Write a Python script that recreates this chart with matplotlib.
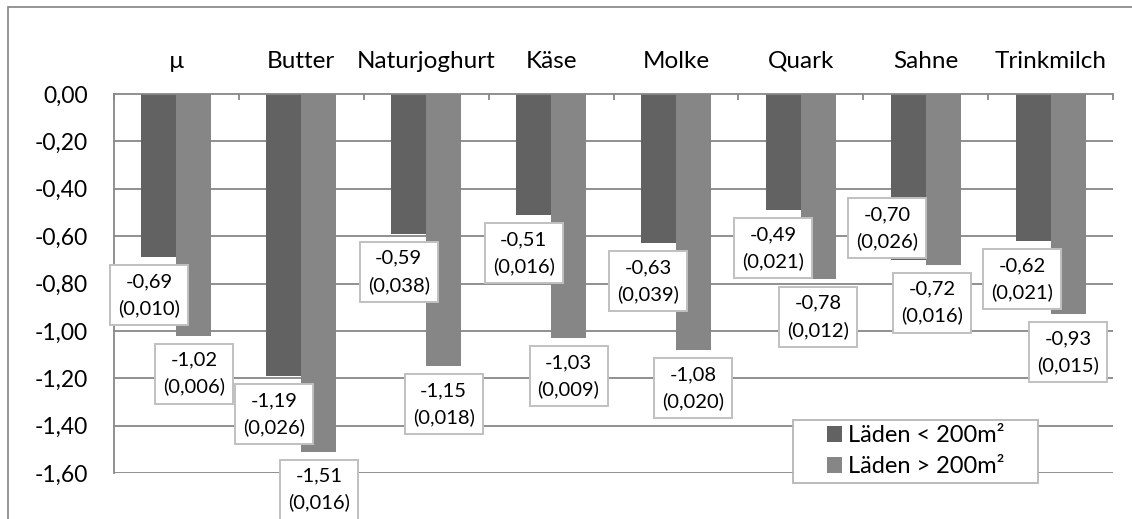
import matplotlib.pyplot as plt
import numpy as np
from matplotlib.patches import Rectangle

plt.rcParams['font.family'] = ['Lato', 'DejaVu Sans']

categories = ["µ", "Butter", "Naturjoghurt", "Käse", "Molke", "Quark", "Sahne", "Trinkmilch"]
small_vals = [-0.69, -1.19, -0.59, -0.51, -0.63, -0.49, -0.70, -0.62]
small_se = [0.010, 0.026, 0.038, 0.016, 0.039, 0.021, 0.026, 0.021]
large_vals = [-1.02, -1.51, -1.15, -1.03, -1.08, -0.78, -0.72, -0.93]
large_se = [0.006, 0.016, 0.018, 0.009, 0.020, 0.012, 0.016, 0.015]
series_names = ["Läden < 200m²", "Läden > 200m²"]
yticks = [0, -0.2, -0.4, -0.6, -0.8, -1.0, -1.2, -1.4, -1.6]

# label box offsets from the bar end, in pixels (dx, dy down)
small_off = [(-10, 38)] * 6 + [(-21, -32), (-11, 38)]
large_off = [(0, 38)] * 6 + [(-11, 38), (0, 38)]

DARK = "#626262"
LIGHT = "#868686"
GRID = "#878787"

def fmt(v, d):
    return f"{v:.{d}f}".replace(".", ",")

fig = plt.figure(figsize=(11.32, 5.19), dpi=100)
W, H = 1132, 519
ax = fig.add_axes([114 / W, 1 - 473 / H, 999 / W, 379 / H])

# outer chart frame
fig.add_artist(Rectangle((8 / W, -0.2), 1.2, 1.2 - 7 / H, transform=fig.transFigure,
                         fill=False, edgecolor="#8c8c8c", linewidth=1.3))

x = np.arange(len(categories))
w = 0.28
ax.bar(x - w / 2, small_vals, w, color=DARK, label=series_names[0], zorder=2)
ax.bar(x + w / 2, large_vals, w, color=LIGHT, label=series_names[1], zorder=2)

ax.set_xlim(-0.5, len(categories) - 0.5)
ax.set_ylim(-1.6, 0)
ax.set_yticks(yticks)
ax.set_yticklabels([fmt(t, 2) for t in yticks], fontsize=16.5)
ax.tick_params(axis='y', length=0, pad=19)
for t in yticks[1:]:
    ax.axhline(t, color=GRID, linewidth=1.3, zorder=1)

ax.xaxis.tick_top()
ax.set_xticks(x)
ax.set_xticklabels(categories, fontsize=17.5)
ax.set_xticks(np.arange(len(categories) + 1) - 0.5, minor=True)
ax.tick_params(axis='x', which='major', length=0, pad=16)
ax.tick_params(axis='x', which='minor', direction='in', length=4.5, width=1.3, color=GRID)

for s in ['right', 'bottom']:
    ax.spines[s].set_visible(False)
for s in ['left', 'top']:
    ax.spines[s].set_color(GRID)
    ax.spines[s].set_linewidth(1.3)

box = dict(boxstyle="square,pad=0.4", facecolor="white", edgecolor="#c0c0c0", linewidth=1.4)
for i in range(len(categories)):
    for xc, v, se, off in [(x[i] - w / 2, small_vals[i], small_se[i], small_off[i]),
                           (x[i] + w / 2, large_vals[i], large_se[i], large_off[i])]:
        ax.annotate(f"{fmt(v, 2)}\n({fmt(se, 3)})", xy=(xc, v),
                    xytext=(off[0] * 0.72, -off[1] * 0.72), textcoords='offset points',
                    ha='center', va='center', fontsize=14.5, linespacing=1.6,
                    bbox=box, zorder=5, annotation_clip=False)

# legend frame drawn separately (wider side padding than matplotlib gives)
ax.add_patch(Rectangle((0.680, -0.026), 0.245, 0.166, transform=ax.transAxes,
                       facecolor="white", edgecolor="#b5b5b5", linewidth=1.3,
                       zorder=6, clip_on=False))
leg = ax.legend(loc='center', bbox_to_anchor=(0.8025, 0.058), fontsize=17,
                frameon=False, handlelength=0.65, handleheight=0.65, handletextpad=0.25,
                labelspacing=0.42, borderpad=0.2)
leg.set_zorder(7)

fig.savefig("out.png", dpi=100)
